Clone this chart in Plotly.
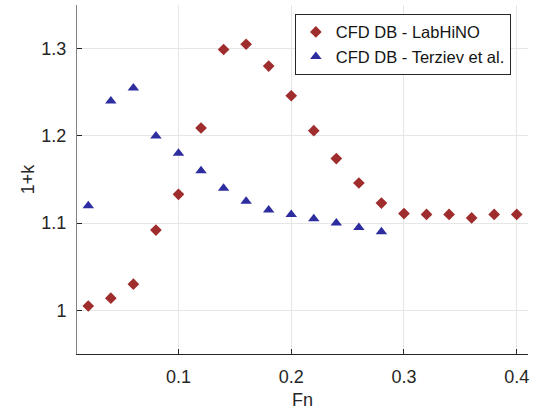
import plotly.graph_objects as go

fn_lab = [0.02, 0.04, 0.06, 0.08, 0.10, 0.12, 0.14, 0.16, 0.18, 0.20,
          0.22, 0.24, 0.26, 0.28, 0.30, 0.32, 0.34, 0.36, 0.38, 0.40]
k_lab = [1.005, 1.014, 1.030, 1.092, 1.133, 1.209, 1.299, 1.305, 1.280, 1.246,
         1.206, 1.174, 1.146, 1.123, 1.111, 1.110, 1.110, 1.106, 1.110, 1.110]

fn_ter = [0.02, 0.04, 0.06, 0.08, 0.10, 0.12, 0.14, 0.16, 0.18, 0.20,
          0.22, 0.24, 0.26, 0.28]
k_ter = [1.120, 1.240, 1.255, 1.200, 1.180, 1.160, 1.140, 1.125, 1.115, 1.110,
         1.105, 1.100, 1.095, 1.090]

x_ticks = [0.1, 0.2, 0.3, 0.4]
y_ticks = [1.0, 1.1, 1.2, 1.3]
y_tick_text = ["1", "1.1", "1.2", "1.3"]

red = "rgb(160,45,45)"
blue = "rgb(45,45,160)"

fig = go.Figure()
fig.add_trace(go.Scatter(x=fn_lab, y=k_lab, mode="markers", name="CFD DB - LabHiNO",
                         marker=dict(symbol="diamond", size=9, color=red)))
fig.add_trace(go.Scatter(x=fn_ter, y=k_ter, mode="markers", name="CFD DB - Terziev et al.",
                         marker=dict(symbol="triangle-up", size=10, color=blue)))

font = "Liberation Sans, Arial, sans-serif"
fig.update_layout(
    width=543, height=417,
    margin=dict(l=77, r=15, t=5, b=63),
    paper_bgcolor="white", plot_bgcolor="white",
    font=dict(family=font, size=18, color="rgb(38,38,38)"),
    showlegend=True,
    legend=dict(x=0.962, y=0.975, xanchor="right", yanchor="top",
                bgcolor="white", bordercolor="rgb(38,38,38)", borderwidth=1,
                font=dict(size=16.5, color="rgb(20,20,20)"),
                itemwidth=30, tracegroupgap=0),
    xaxis=dict(range=[0.01, 0.41], tickvals=x_ticks, ticktext=[str(v) for v in x_ticks],
               showgrid=True, gridcolor="rgb(230,230,230)", gridwidth=1,
               showline=True, linecolor="rgb(38,38,38)", linewidth=1,
               ticks="inside", ticklen=5, tickcolor="rgb(38,38,38)",
               zeroline=False, mirror=False, automargin=False,
               ticklabelstandoff=6,
               title=dict(text="Fn", font=dict(size=18), standoff=7)),
    yaxis=dict(range=[0.95, 1.35], tickvals=y_ticks, ticktext=y_tick_text,
               showgrid=True, gridcolor="rgb(230,230,230)", gridwidth=1,
               showline=True, linecolor="rgb(130,130,130)", linewidth=1,
               ticks="inside", ticklen=5, tickcolor="rgb(38,38,38)",
               zeroline=False, mirror=False, automargin=False,
               ticklabelstandoff=6,
               title=dict(text="1+k", font=dict(size=18), standoff=2)),
)

fig.write_html("out.html", config={"displayModeBar": False},
               post_script="document.body.style.margin='0';")
